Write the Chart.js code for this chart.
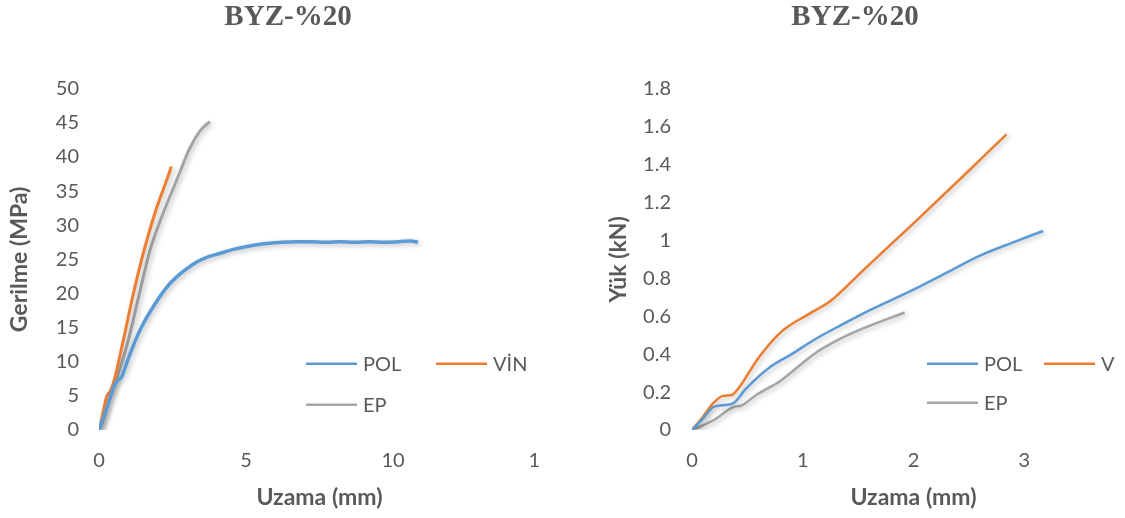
<!DOCTYPE html>
<html>
<head>
<meta charset="utf-8">
<script src="https://cdn.jsdelivr.net/npm/chart.js@4.4.1/dist/chart.umd.min.js"></script>
<style>
  html, body { margin: 0; padding: 0; background: #fff; }
  body { width: 1125px; height: 518px; position: relative; overflow: hidden; }
  .clip { position: absolute; top: 0; height: 518px; overflow: hidden; }
  #clipLeft { left: 0; width: 540px; }
  #clipRight { left: 560px; width: 555px; }
  canvas { position: absolute; top: 0; }
  #stressChart { left: 0; }
  #loadChart { left: 5px; }
</style>
</head>
<body>
<div class="clip" id="clipLeft"><canvas id="stressChart" width="576" height="518"></canvas></div>
<div class="clip" id="clipRight"><canvas id="loadChart" width="580" height="518"></canvas></div>
<script>
// BYZ-%20, left: stress (MPa) vs elongation (mm)
const seriesNames = ["POL", "VİN", "EP"];
const chartTitle = "BYZ-%20";

const stressPolX = [0, 0.15, 0.32, 0.5, 0.6, 0.77, 0.9, 1.06, 1.4, 1.85, 2.42, 3.2, 3.6, 4.13, 4.6, 5.04, 5.6, 6.18, 6.7, 7.2, 7.7, 8.2, 8.7, 9.2, 9.7, 10.2, 10.6, 10.85];
const stressPolY = [0, 1.8, 3.9, 6.3, 7.1, 7.8, 9.3, 11.2, 14.7, 18.1, 21.5, 24.3, 25.2, 25.9, 26.5, 26.9, 27.3, 27.5, 27.6, 27.6, 27.5, 27.6, 27.5, 27.6, 27.5, 27.6, 27.7, 27.5];
const stressVinX = [0, 0.05, 0.15, 0.26, 0.4, 0.5, 0.83, 1.17, 1.55, 1.94, 2.29, 2.46];
const stressVinY = [0, 0.8, 2.8, 4.9, 5.8, 7.0, 13.2, 20.0, 26.6, 32.3, 36.5, 38.6];
const stressEpX = [0, 0.15, 0.34, 0.6, 1.0, 1.35, 1.74, 2.14, 2.65, 3.1, 3.45, 3.77];
const stressEpY = [0, 1.5, 4.4, 7.5, 13.2, 19.5, 26.4, 31.3, 36.7, 41.4, 43.9, 45.2];

// right: load (kN) vs elongation (mm)
const loadPolX = [0, 0.1, 0.19, 0.27, 0.37, 0.49, 0.7, 0.9, 1.1, 1.35, 1.58, 2.0, 2.3, 2.6, 2.9, 3.17];
const loadPolY = [0, 0.06, 0.12, 0.13, 0.14, 0.22, 0.33, 0.4, 0.475, 0.555, 0.625, 0.74, 0.83, 0.92, 0.99, 1.05];
const loadVinX = [0, 0.1, 0.19, 0.28, 0.36, 0.42, 0.6, 0.81, 1.05, 1.25, 1.55, 2.0, 2.45, 2.84];
const loadVinY = [0, 0.07, 0.14, 0.18, 0.185, 0.22, 0.38, 0.52, 0.61, 0.68, 0.845, 1.09, 1.34, 1.56];
const loadEpX = [0, 0.19, 0.37, 0.45, 0.58, 0.8, 1.1, 1.3, 1.55, 1.92];
const loadEpY = [0, 0.05, 0.12, 0.13, 0.185, 0.26, 0.4, 0.47, 0.537, 0.62];

const seriesColors = ["#5B9BD5", "#ED7D31", "#A5A5A5"];
const textColor = "#595959";

function toPoints(xs, ys) {
  return xs.map((x, i) => ({ x: x, y: ys[i] }));
}

// legend drawn inside the plot area, like the Excel original
const floatLegend = {
  id: "floatLegend",
  afterDraw(chart, args, opts) {
    const ctx = chart.ctx;
    const area = chart.chartArea;
    ctx.save();
    chart.data.datasets.forEach((ds, i) => {
      const x = area.left + opts.spots[i][0];
      const y = area.top + opts.spots[i][1];
      ctx.strokeStyle = ds.borderColor;
      ctx.lineWidth = 2.5;
      ctx.beginPath();
      ctx.moveTo(x, y);
      ctx.lineTo(x + 51, y);
      ctx.stroke();
      ctx.fillStyle = textColor;
      ctx.font = "20px Lato";
      ctx.textBaseline = "middle";
      ctx.textAlign = "left";
      ctx.fillText(ds.label, x + 57, y + 1);
    });
    ctx.restore();
  }
};

const lineShadow = {
  id: "lineShadow",
  beforeDatasetDraw(chart) {
    const ctx = chart.ctx;
    ctx.save();
    ctx.shadowColor = "rgba(0, 0, 0, 0.25)";
    ctx.shadowBlur = 5;
    ctx.shadowOffsetX = 2;
    ctx.shadowOffsetY = 2;
  },
  afterDatasetDraw(chart) {
    chart.ctx.restore();
  }
};

function makeDatasets(pairs, widths) {
  return pairs.map((p, i) => ({
    "label": seriesNames[i],
    "data": toPoints(p[0], p[1]),
    "borderColor": seriesColors[i],
    "backgroundColor": seriesColors[i],
    "borderWidth": widths[i],
    "pointRadius": 0,
    "fill": false,
    "cubicInterpolationMode": "monotone",
  }));
}

function makeOptions(cfg) {
  return {
    "responsive": false,
    "animation": false,
    "devicePixelRatio": 1,
    "layout": { "padding": 0 },
    "plugins": {
      "legend": { "display": false },
      "tooltip": { "enabled": false },
      "title": {
        "display": true,
        "text": chartTitle,
        "color": textColor,
        "font": { "family": "Liberation Serif", "size": 29, "weight": "bold" },
        "padding": { "top": 0, "bottom": 54 },
      },
      "floatLegend": { "spots": cfg.spots },
    },
    "scales": {
      "x": {
        "type": "linear",
        "min": 0,
        "max": cfg.xMax,
        "grid": { "display": false, "drawTicks": false },
        "border": { "display": false },
        "ticks": { "stepSize": cfg.xStep, "color": textColor, "font": { "size": 20 }, "padding": 19 },
        "title": {
          "display": true,
          "text": "Uzama (mm)",
          "color": textColor,
          "font": { "size": 23, "weight": "bold" },
          "padding": { "top": 4, "bottom": 7 },
        },
        // plot area stops short of the canvas edge, title stays centred on the whole chart
        "afterFit": (s) => { s.height = 88; s.paddingRight = cfg.plotRightGap; },
      },
      "y": {
        "min": 0,
        "max": cfg.yMax,
        "grid": { "display": false, "drawTicks": false },
        "border": { "display": false },
        "ticks": {
          "stepSize": cfg.yStep,
          "color": textColor,
          "font": { "size": 20 },
          "padding": cfg.yPad,
          "callback": (v) => String(Math.round(v * 100) / 100),
        },
        "title": {
          "display": true,
          "text": cfg.yTitle,
          "color": textColor,
          "font": { "size": 23, "weight": "bold" },
          "padding": { "top": cfg.yTitlePad, "bottom": 0 },
        },
        "afterFit": (s) => { s.width = cfg.yWidth; },
      },
    },
  };
}

function draw() {
  Chart.defaults.font.family = "Lato";
  Chart.defaults.color = textColor;

  new Chart(document.getElementById("stressChart"), {
    "type": "line",
    "data": {
      "datasets": makeDatasets(
        [[stressPolX, stressPolY], [stressVinX, stressVinY], [stressEpX, stressEpY]],
        [3.5, 3, 3]
      ),
    },
    "options": makeOptions({
      plotRightGap: 36, xMax: 15, xStep: 5, yMax: 50, yStep: 5,
      yTitle: "Gerilme (MPa)", yWidth: 99, yPad: 20, yTitlePad: 6,
      spots: [[207, 275], [337, 275], [207, 316]],
    }),
    "plugins": [lineShadow, floatLegend],
  });

  new Chart(document.getElementById("loadChart"), {
    "type": "line",
    "data": {
      "datasets": makeDatasets(
        [[loadPolX, loadPolY], [loadVinX, loadVinY], [loadEpX, loadEpY]],
        [2.5, 2.5, 2.5]
      ),
    },
    "options": makeOptions({
      plotRightGap: 10, xMax: 4, xStep: 1, yMax: 1.8, yStep: 0.2,
      yTitle: "Yük (kN)", yWidth: 127, yPad: 21, yTitlePad: 40,
      spots: [[235, 275], [352, 275], [235, 314]],
    }),
    "plugins": [lineShadow, floatLegend],
  });
}

if (document.fonts && document.fonts.load) {
  Promise.all([
    document.fonts.load("20px Lato"),
    document.fonts.load("bold 23px Lato"),
    document.fonts.load("bold 29px 'Liberation Serif'"),
  ]).then(draw, draw);
} else {
  draw();
}
</script>
</body>
</html>
